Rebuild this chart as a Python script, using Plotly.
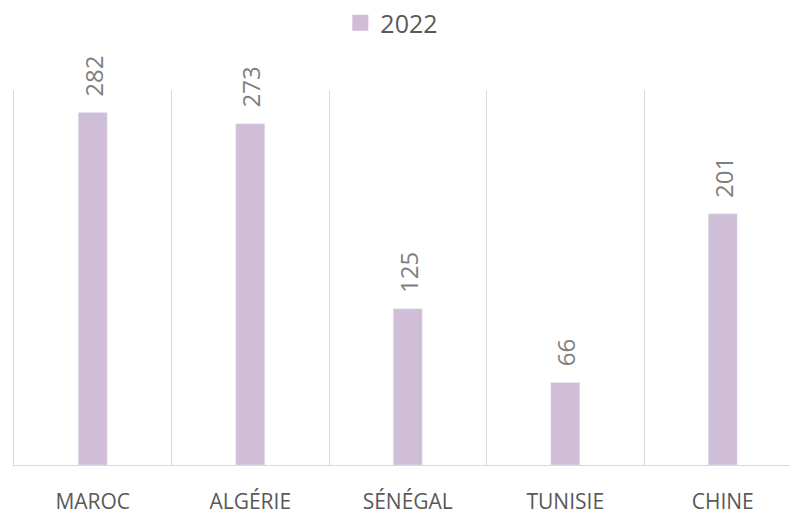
import plotly.graph_objects as go

categories = ["MAROC", "ALGÉRIE", "SÉNÉGAL", "TUNISIE", "CHINE"]
values_2022 = [282, 273, 125, 66, 201]
series_name = "2022"

BAR = "#D0BDD8"
GRID = "#D9D9D9"
FONT = "Open Sans"

fig = go.Figure()
fig.add_trace(go.Bar(x=categories, y=values_2022, marker_color=BAR,
                     showlegend=False, width=0.184, hoverinfo="x+y"))
fig.add_trace(go.Scatter(x=[None], y=[None], mode="markers", name=series_name,
                         marker=dict(symbol="square", size=16, color=BAR)))

for c, v in zip(categories, values_2022):
    fig.add_annotation(x=c, y=v, text=str(v), textangle=-90, showarrow=False,
                       yanchor="bottom", yshift=14,
                       font=dict(size=24, color="#7F7F7F", family=FONT))

fig.update_layout(
    width=790, height=514,
    margin=dict(l=14, r=0, t=90, b=49),
    plot_bgcolor="white", paper_bgcolor="white",
    font=dict(family=FONT),
    legend=dict(orientation="h", x=0.496, xref="container", xanchor="center",
                y=1.0, yref="container", yanchor="top",
                font=dict(size=25, color="#595959"), itemsizing="trace"),
    xaxis=dict(type="category", range=[-0.5, 4.427], tickson="boundaries",
               showgrid=True, gridcolor=GRID, gridwidth=1,
               showline=True, linecolor=GRID, linewidth=1, ticks="",
               tickfont=dict(size=21, color="#595959", family=FONT),
               ticklabelstandoff=18),
    yaxis=dict(range=[0, 300], showgrid=False, showticklabels=False,
               zeroline=False, showline=True, linecolor=GRID, linewidth=1),
)

fig.write_html("out.html", config={"displayModeBar": False},
               post_script="document.body.style.margin='0';document.body.style.overflow='hidden';")
